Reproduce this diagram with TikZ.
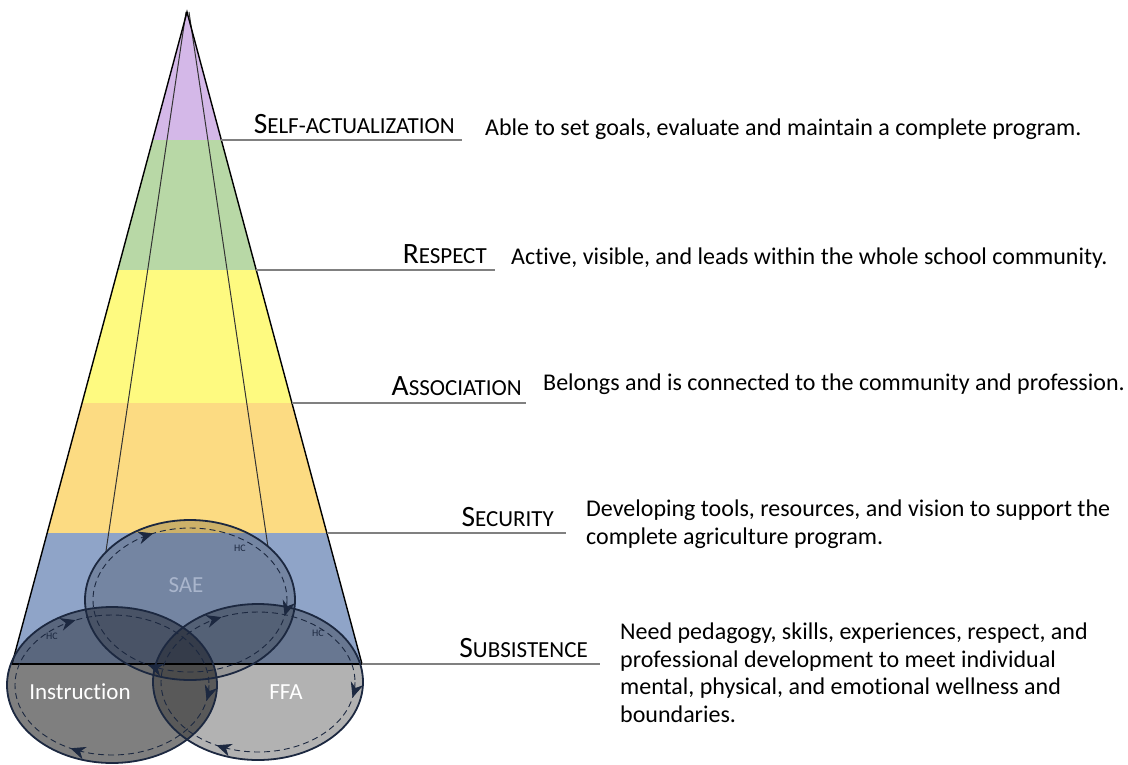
\documentclass[tikz,border=0pt]{standalone}
\usepackage{fontspec}
\setmainfont{Carlito}[Ligatures=NoCommon]
\usetikzlibrary{arrows.meta,decorations.markings}

\definecolor{lvlpurple}{HTML}{D4B8E8}
\definecolor{lvlgreen}{HTML}{B8D8A6}
\definecolor{lvlyellow}{HTML}{FEFA80}
\definecolor{lvlorange}{HTML}{FCDB82}
\definecolor{lvlblue}{HTML}{8FA4C8}
\definecolor{rimnavy}{HTML}{1C2840}
\definecolor{saegray}{HTML}{A9B5CC}

\newcommand\lvlname[2]{{\fontsize{29.5}{29.5}\selectfont #1}{\fontsize{23}{23}\selectfont #2}}

\tikzset{
	leader/.style={draw=gray, line width=1.2pt},
	rim/.style={draw=rimnavy, line width=1.8pt},
	hcloop/.style={dash pattern=on 6pt off 4pt, draw=rimnavy, line width=0.9pt, postaction={decorate},
		decoration={markings,
			mark=at position 0.03 with {\arrow[solid,fill=rimnavy]{Stealth[length=15pt,width=13pt]}},
			mark=at position 0.33 with {\arrow[solid,fill=rimnavy]{Stealth[length=15pt,width=13pt]}},
			mark=at position 0.68 with {\arrow[solid,fill=rimnavy]{Stealth[length=15pt,width=13pt]}}}},
	lvl/.style={anchor=base east, inner sep=0pt},
	desc/.style={anchor=base west, inner sep=0pt, align=left, font=\fontsize{24}{27.5}\selectfont},
	hc/.style={inner sep=0pt, text=rimnavy, font=\fontsize{10}{10}\selectfont},
}

\begin{document}
\begin{tikzpicture}[x=1pt,y=-1pt]
	\useasboundingbox (0,0) rectangle (1128,764);
	\coordinate (apex) at (187,12);
	\coordinate (bl) at (12,664);
	\coordinate (br) at (362,664);
	
	% coloured levels of the cone
	\begin{scope}
		\clip (apex) -- (bl) -- (br) -- cycle;
		\def\bands {12/140/lvlpurple, 140/270/lvlgreen, 270/403/lvlyellow, 403/533/lvlorange, 533/664/lvlblue}  % top/bottom/colour
		\foreach \top/\bot/\col in \bands
		{	\fill[\col] (0,\top) rectangle (400,\bot);
		}
	\end{scope}
	\coordinate (innl) at (106,551);
	\coordinate (innr) at (268,547);
	\draw[black!80, line width=1pt] (186,12) -- (innl);
	\draw[black!80, line width=1pt] (189,12) -- (innr);
	
	% circles, lighter inside the cone
	\begin{scope}
		\clip (0,0) rectangle (1128,664);
		\fill[black, opacity=0.19] (190,600) ellipse [x radius=105, y radius=80];
		\fill[black, opacity=0.37] (112,685) ellipse [x radius=105, y radius=78];
		\fill[black, opacity=0.27] (258,682) ellipse [x radius=105, y radius=78];
	\end{scope}
	\begin{scope}
		\clip (0,664) rectangle (1128,764);
		\fill[black, opacity=0.15] (190,600) ellipse [x radius=105, y radius=80];
		\fill[black, opacity=0.5] (112,685) ellipse [x radius=105, y radius=78];
		\fill[black, opacity=0.3] (258,682) ellipse [x radius=105, y radius=78];
	\end{scope}
	\draw[line width=1.4pt] (bl) -- (apex) -- (br);
	\draw[line width=1.4pt] (bl) -- (br);
	
	\draw[hcloop] (190,600) ellipse [x radius=97, y radius=72];
	\draw[hcloop] (112,685) ellipse [x radius=97, y radius=70];
	\draw[hcloop] (258,682) ellipse [x radius=97, y radius=70];
	\draw[rim] (190,600) ellipse [x radius=105, y radius=80];
	\draw[rim] (112,685) ellipse [x radius=105, y radius=78];
	\draw[rim] (258,682) ellipse [x radius=105, y radius=78];
	
	\node[hc] (hcsae) at (240,548) {HC};
	\node[hc] (hcinst) at (52,636) {HC};
	\node[hc] (hcffa) at (318,633) {HC};
	\node[text=saegray, font=\fontsize{23}{23}\selectfont] (sae) at (186,585) {SAE};
	\node[text=white, font=\fontsize{23}{23}\selectfont] (inst) at (80,692) {Instruction};
	\node[text=white, font=\fontsize{23}{23}\selectfont] (ffa) at (286,692) {FFA};
	
	% leaders and level names
	\def\leaders {140/221/462, 270/256/495, 403/292/526, 533/327/566, 664/362/600}  % y/from/to
	\foreach \y/\xa/\xb in \leaders
	{	\draw[leader] (\xa,\y) -- (\xb,\y);
	}
	\node[lvl] (selfact) at (455,133) {\lvlname{S}{ELF-ACTUALIZATION}};
	\node[lvl] (respect) at (487,263) {\lvlname{R}{ESPECT}};
	\node[lvl] (assoc) at (522,395) {\lvlname{A}{SSOCIATION}};
	\node[lvl] (security) at (554,526) {\lvlname{S}{ECURITY}};
	\node[lvl] (subsist) at (588,657) {\lvlname{S}{UBSISTENCE}};
	
	% descriptions, base = last line
	\node[desc] (dself) at (485,135) {Able to set goals, evaluate and maintain a complete program.};
	\node[desc] (drespect) at (511,264) {Active, visible, and leads within the whole school community.};
	\node[desc] (dassoc) at (543,390) {Belongs and is connected to the community and profession.};
	\node[desc] (dsecurity) at (586,544) {Developing tools, resources, and vision to support the\\complete agriculture program.};
	\node[desc] (dsubsist) at (620,722) {Need pedagogy, skills, experiences, respect, and\\professional development to meet individual\\mental, physical, and emotional wellness and\\boundaries.};
\end{tikzpicture}
\end{document}
